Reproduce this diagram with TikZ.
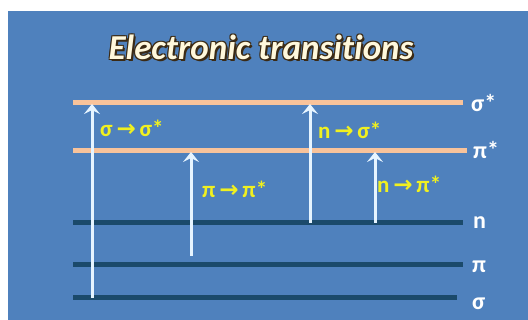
\documentclass[tikz,border=0pt]{standalone}
\usepackage{fontspec}
\setmainfont{Carlito}[Ligatures={NoCommon}]
\newfontfamily\arrowfont{DejaVu Sans}
\usetikzlibrary{arrows.meta}
\definecolor{slideblue}{HTML}{4F81BD}
\definecolor{antibond}{HTML}{F8C39B}
\definecolor{bondlevel}{HTML}{1B4A6B}
\definecolor{jumpcol}{HTML}{E6F4FF}
\definecolor{translabel}{HTML}{F0F020}
\definecolor{titlecream}{HTML}{FFF8DC}
\definecolor{titleglow}{HTML}{3B2A14}
\newcommand{\goesto}{{\arrowfont\bfseries\,→\,}}
\tikzset{
  upper/.style={line width=5pt, antibond},
  lower/.style={line width=5pt, bondlevel},
  levelname/.style={anchor=base west, text=white, inner sep=0pt,
    font=\bfseries\fontsize{24}{24}\selectfont},
  jump/.style={-{Stealth[length=10pt,width=16pt,inset=4pt]}, line width=3pt, jumpcol},
  jumpname/.style={anchor=base west, text=translabel, inner sep=0pt,
    font=\bfseries\fontsize{23}{23}\selectfont},
  headline/.style={anchor=base, inner sep=0pt,
    font=\bfseries\itshape\fontsize{35}{35}\selectfont}
}

\begin{document}
\begin{tikzpicture}[x=1pt,y=-1pt]
  \useasboundingbox (0,0) rectangle (528,320);
  \fill[slideblue] (8,11) rectangle (528,320);

  % title, dark glow behind cream letters
  \foreach \dx/\dy in {-1/-1, 1/1, 2/2, -1/1, 1/-1}
    \node[headline, text=titleglow] at (261+\dx,60+\dy) {Electronic transitions};
  \node[headline, text=titlecream] (title) at (261,60) {Electronic transitions};

  % energy levels
  \coordinate (ss-l) at (73,103);  \coordinate (ss-r) at (463,103);
  \coordinate (ps-l) at (73,151);  \coordinate (ps-r) at (467,151);
  \coordinate (n-l)  at (73,223);  \coordinate (n-r)  at (463,223);
  \coordinate (p-l)  at (73,265);  \coordinate (p-r)  at (463,265);
  \coordinate (s-l)  at (73,298);  \coordinate (s-r)  at (457,298);
  \draw[upper] (ss-l) -- (ss-r);
  \draw[upper] (ps-l) -- (ps-r);
  \draw[lower] (n-l) -- (n-r);
  \draw[lower] (p-l) -- (p-r);
  \draw[lower] (s-l) -- (s-r);

  \node[levelname] (ss-name) at (471,112) {σ*};
  \node[levelname] (ps-name) at (473,159) {π*};
  \node[levelname] (n-name)  at (473,229) {n};
  \node[levelname] (p-name)  at (472,273) {π};
  \node[levelname] (s-name)  at (472,310) {σ};

  % transitions
  \coordinate (s2ss-a) at (92,298);   \coordinate (s2ss-b) at (92,104);
  \coordinate (p2ps-a) at (191,256);  \coordinate (p2ps-b) at (191,152);
  \coordinate (n2ss-a) at (310,223);  \coordinate (n2ss-b) at (310,104);
  \coordinate (n2ps-a) at (375,223);  \coordinate (n2ps-b) at (375,152);
  \draw[jump] (s2ss-a) -- (s2ss-b);
  \draw[jump] (p2ps-a) -- (p2ps-b);
  \draw[jump] (n2ss-a) -- (n2ss-b);
  \draw[jump] (n2ps-a) -- (n2ps-b);

  \node[jumpname] (s2ss-name) at (100,137) {σ\goesto σ*};
  \node[jumpname] (p2ps-name) at (202,198) {π\goesto π*};
  \node[jumpname] (n2ss-name) at (318,139) {n\goesto σ*};
  \node[jumpname] (n2ps-name) at (377,193) {n\goesto π*};
\end{tikzpicture}
\end{document}
